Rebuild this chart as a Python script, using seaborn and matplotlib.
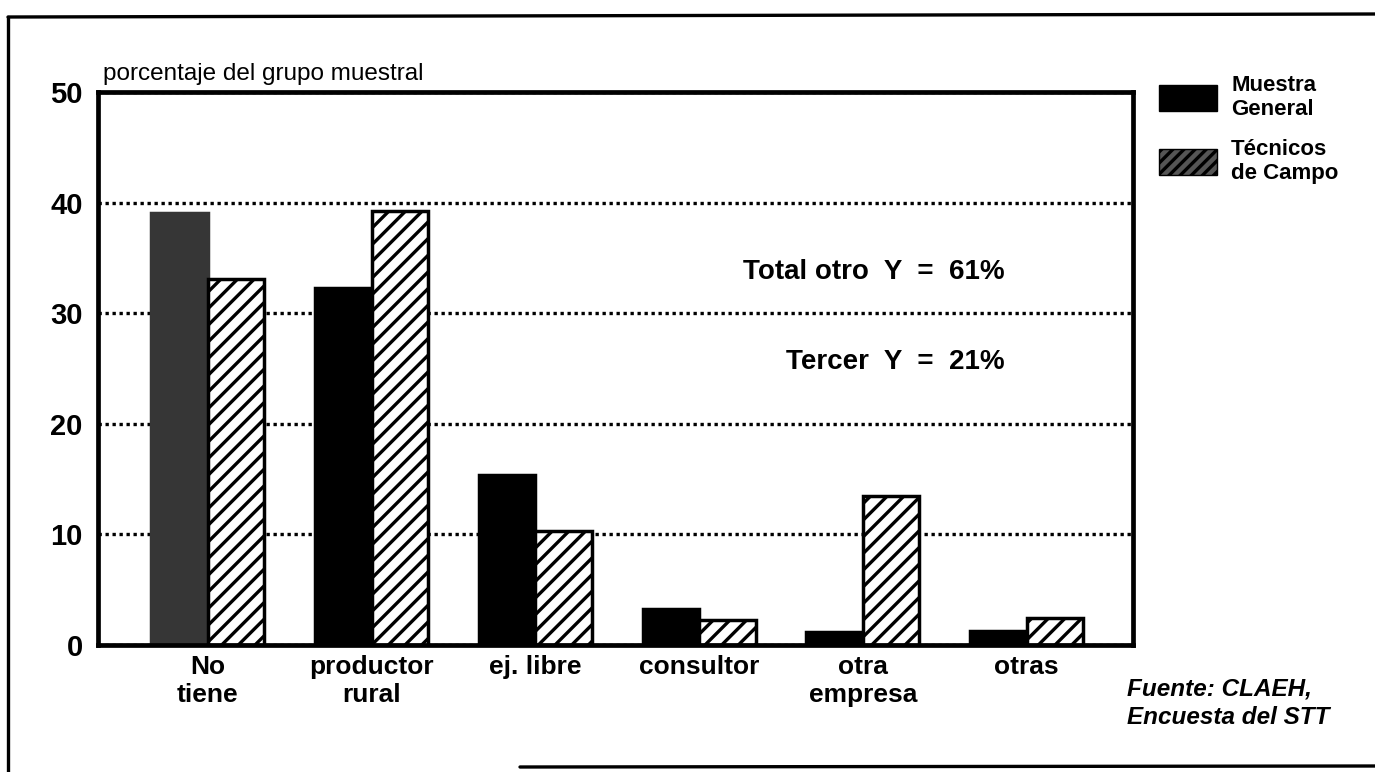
import matplotlib
matplotlib.use("Agg")
import matplotlib.pyplot as plt
from matplotlib.lines import Line2D
from matplotlib.patches import Patch
import seaborn as sns
import pandas as pd

# Occupation categories and percentage per sample group
categories = ["No\ntiene", "productor\nrural", "ej. libre", "consultor", "otra\nempresa", "otras"]
muestra_general = [39.1, 32.3, 15.4, 3.3, 1.2, 1.3]
tecnicos_campo = [33.1, 39.2, 10.3, 2.3, 13.5, 2.4]
series_names = ["Muestra\nGeneral", "Técnicos\nde Campo"]
y_ticks = [0, 10, 20, 30, 40, 50]

df = pd.DataFrame({
    "categoria": categories * 2,
    "valor": muestra_general + tecnicos_campo,
    "serie": [series_names[0]] * len(categories) + [series_names[1]] * len(categories),
})

sns.set_theme(style="white")
plt.rcParams["font.family"] = ["Liberation Sans", "DejaVu Sans"]
plt.rcParams["text.color"] = "black"
plt.rcParams["xtick.color"] = "black"
plt.rcParams["ytick.color"] = "black"
plt.rcParams["hatch.linewidth"] = 2.4
plt.rcParams["hatch.color"] = "black"

fig = plt.figure(figsize=(13.75, 7.72), dpi=100)
ax = fig.add_axes([0.0713, 0.1645, 0.824 - 0.0713, 0.8808 - 0.1645])

sns.barplot(data=df, x="categoria", y="valor", hue="serie",
            palette=["black", "white"], edgecolor="black", linewidth=2.5,
            width=0.69, ax=ax, legend=False)

# Solid bars for the general sample, hatched bars for field technicians
for bar in ax.containers[0]:
    bar.set_facecolor("black")
ax.containers[0][0].set_facecolor("#363636")
ax.containers[0][0].set_edgecolor("#363636")
for bar in ax.containers[1]:
    bar.set_facecolor("white")
    bar.set_hatch("//")

ax.set_xlim(-0.67, 5.65)
ax.set_ylim(0, 50)
ax.set_yticks(y_ticks)
ax.set_yticklabels([str(t) for t in y_ticks], fontsize=21, fontweight="bold")
ax.tick_params(axis="y", length=0, pad=11)
ax.tick_params(axis="x", length=0, pad=7, labelsize=19)
for lbl in ax.get_xticklabels():
    lbl.set_fontweight("bold")
    lbl.set_linespacing(1.25)
ax.set_xlabel("")
ax.set_ylabel("")

ax.yaxis.grid(True, linestyle=(0, (1, 1.1)), linewidth=2.4, color="black")
ax.set_axisbelow(True)
for side in ["left", "right", "top", "bottom"]:
    ax.spines[side].set_visible(True)
    ax.spines[side].set_color("black")
    ax.spines[side].set_linewidth(3.4)

# Axis caption above the plotting area
ax.text(0.005, 1.012, "porcentaje del grupo muestral", transform=ax.transAxes,
        fontsize=17.5, ha="left", va="bottom")

# Summary annotations inside the plot
ax.text(0.876, 33.7, "Total otro  Y  =  61%", transform=ax.get_yaxis_transform(),
        fontsize=20, fontweight="bold", ha="right", va="center")
ax.text(0.876, 25.6, "Tercer  Y  =  21%", transform=ax.get_yaxis_transform(),
        fontsize=20, fontweight="bold", ha="right", va="center")

# Legend in the right margin
handles = [Patch(facecolor="black", edgecolor="black"),
           Patch(facecolor="#555555", edgecolor="black", hatch="///")]
fig.legend(handles, series_names, loc="upper left",
           bbox_to_anchor=(1150 / 1375, 1 - 66 / 772), frameon=False,
           prop={"size": 16, "weight": "bold"}, handlelength=2.6,
           handleheight=1.45, labelspacing=0.85, handletextpad=0.65,
           borderaxespad=0)

# Source note
fig.text(1127 / 1375, 1 - 703 / 772, "Fuente: CLAEH,\nEncuesta del STT",
         fontsize=17.5, fontweight="bold", style="italic", ha="left", va="center",
         linespacing=1.3)

# Outer frame of the figure
frame_kw = dict(color="black", linewidth=2.4, transform=fig.transFigure)
fig.add_artist(Line2D([8 / 1375, 8 / 1375], [0, 1 - 17 / 772], **frame_kw))
fig.add_artist(Line2D([8 / 1375, 1], [1 - 17 / 772, 1 - 14 / 772], **frame_kw))
fig.add_artist(Line2D([520 / 1375, 1], [1 - 767 / 772, 1 - 766 / 772], **frame_kw))

fig.savefig("out.png", dpi=100, facecolor="white")
